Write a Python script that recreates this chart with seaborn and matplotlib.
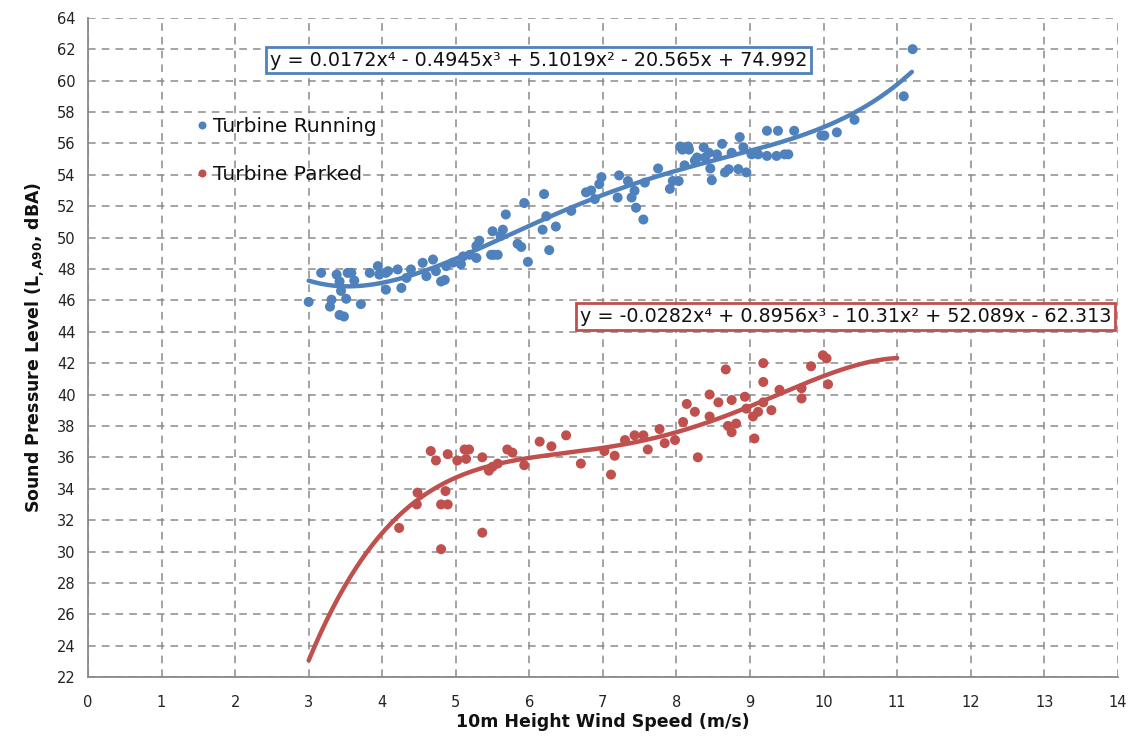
import numpy as np
import pandas as pd
import matplotlib
matplotlib.use("Agg")
import matplotlib.pyplot as plt
import seaborn as sns

# ---------------- data ----------------
run_x = [3.0, 3.17, 3.31, 3.29, 3.38, 3.42, 3.44, 3.42, 3.48, 3.51, 3.53, 3.58, 3.62, 3.71,
         3.83, 3.94, 3.96, 4.05, 4.05, 4.08, 4.21, 4.26, 4.33, 4.39, 4.55, 4.60, 4.69, 4.73,
         4.80, 4.85, 4.87, 4.96, 5.07, 5.10, 5.19, 5.28, 5.28, 5.32, 5.48, 5.50, 5.57, 5.61,
         5.64, 5.68, 5.52, 5.84, 5.89, 5.93, 5.98, 6.20, 6.18, 6.23, 6.27, 6.36, 6.57, 6.77,
         6.84, 6.89, 6.98, 6.95, 7.20, 7.22, 7.34, 7.39, 7.43, 7.45, 7.55, 7.57, 7.75, 7.91,
         7.95, 8.05, 8.16, 8.11, 8.25, 8.39,
         8.08, 8.17, 8.03, 8.28, 8.37, 8.44, 8.46, 8.48, 8.55, 8.62, 8.66, 8.71, 8.75, 8.84,
         8.86, 8.91, 8.95, 9.02, 9.11, 9.23, 9.23, 9.38, 9.36, 9.47, 9.52, 9.60, 9.97, 10.01,
         10.18, 10.42, 11.09, 11.21]
run_y = [45.9, 47.75, 46.04, 45.6, 47.64, 47.2, 46.6, 45.07, 44.97, 46.1, 47.75, 47.75, 47.26, 45.76,
         47.75, 48.18, 47.64, 47.75, 46.68, 47.86, 47.97, 46.79, 47.43, 47.97, 48.39, 47.54, 48.6, 47.86,
         47.2, 47.3, 48.18, 48.4, 48.3, 48.8, 48.9, 48.7, 49.46, 49.8, 48.9, 50.4, 48.9, 50.1,
         50.5, 51.47, 48.9, 49.6, 49.4, 52.2, 48.45, 52.77, 50.5, 51.36, 49.2, 50.7, 51.7, 52.88,
         53.0, 52.45, 53.85, 53.4, 52.55, 53.96, 53.6, 52.55, 52.98, 51.9, 51.15, 53.5, 54.4, 53.1,
         53.6, 55.8, 55.8, 54.6, 54.9, 55.1,
         55.6, 55.6, 53.6, 55.1, 55.75, 55.4, 54.4, 53.65, 55.3, 55.97, 54.15, 54.35, 55.4, 54.36,
         56.4, 55.75, 54.15, 55.3, 55.3, 55.2, 56.8, 56.8, 55.2, 55.3, 55.3, 56.8, 56.5, 56.5,
         56.7, 57.5, 59.0, 62.0]

park_x = [4.23, 4.48, 4.47, 4.66, 4.73, 4.80, 4.80, 4.89, 4.86, 4.89, 5.02, 5.12, 5.18, 5.14,
          5.36, 5.36, 5.45, 5.50, 5.57, 5.70, 5.77, 5.93, 6.14, 6.30, 6.50, 6.70, 7.02, 7.11,
          7.16, 7.30, 7.43, 7.55, 7.61, 7.77, 7.84, 7.98,
          8.09, 8.14, 8.25, 8.29, 8.45, 8.45, 8.57, 8.67, 8.70, 8.75, 8.75, 8.81, 8.93, 8.95,
          9.04, 9.06, 9.11, 9.18, 9.18, 9.18, 9.29, 9.40, 9.70, 9.70, 9.83, 9.99, 10.04, 10.06]
park_y = [31.5, 33.75, 33.0, 36.4, 35.8, 30.15, 33.0, 33.0, 33.85, 36.2, 35.8, 36.5, 36.5, 35.9,
          36.0, 31.2, 35.15, 35.4, 35.6, 36.5, 36.3, 35.5, 37.0, 36.7, 37.4, 35.6, 36.4, 34.9,
          36.1, 37.1, 37.4, 37.4, 36.5, 37.8, 36.9, 37.1,
          38.25, 39.4, 38.9, 36.0, 40.0, 38.6, 39.5, 41.6, 38.0, 39.65, 37.6, 38.15, 39.86, 39.1,
          38.6, 37.2, 38.9, 42.0, 40.8, 39.5, 39.0, 40.3, 40.4, 39.75, 41.8, 42.5, 42.3, 40.65]

# trendline polynomial coefficients (highest power first), as printed on the chart
run_coef = [0.0172, -0.4945, 5.1019, -20.565, 74.992]
park_coef = [-0.0282, 0.8956, -10.31, 52.089, -62.313]
run_range = [3.0, 11.2]
park_range = [3.0, 11.0]

run_label = "Turbine Running"
park_label = "Turbine Parked"
run_eq = "y = 0.0172x\u2074 - 0.4945x\u00b3 + 5.1019x\u00b2 - 20.565x + 74.992"
park_eq = "y = -0.0282x\u2074 + 0.8956x\u00b3 - 10.31x\u00b2 + 52.089x - 62.313"

x_ticks = list(range(0, 15))
y_ticks = list(range(22, 65, 2))

# ---------------- styling ----------------
BLUE = "#4F81BD"
RED = "#C0504D"

sns.set_theme(style="white")
plt.rcParams["font.family"] = ["DejaVu Sans"]

fig = plt.figure(figsize=(11.28, 7.40), dpi=100)
ax = fig.add_axes([0.078, 0.085, 0.913, 0.891])

pts = pd.concat([
    pd.DataFrame({"x": run_x, "y": run_y, "series": run_label}),
    pd.DataFrame({"x": park_x, "y": park_y, "series": park_label}),
], ignore_index=True)

sns.scatterplot(data=pts, x="x", y="y", hue="series",
                palette={run_label: BLUE, park_label: RED},
                s=52, edgecolor="none", linewidth=0, ax=ax, zorder=3)

xr = np.linspace(run_range[0], run_range[1], 300)
xp = np.linspace(park_range[0], park_range[1], 300)
curves = pd.concat([
    pd.DataFrame({"x": xr, "y": np.polyval(run_coef, xr), "series": "run"}),
    pd.DataFrame({"x": xp, "y": np.polyval(park_coef, xp), "series": "park"}),
], ignore_index=True)
sns.lineplot(data=curves, x="x", y="y", hue="series",
             palette={"run": BLUE, "park": RED}, linewidth=3.2,
             legend=False, ax=ax, zorder=4, sort=False, estimator=None)

ax.set_xlim(0, 14)
ax.set_ylim(22, 64)
ax.set_xticks(x_ticks)
ax.set_yticks(y_ticks)
ax.tick_params(axis="both", labelsize=10.5, colors="#222222")
ax.tick_params(axis="x", direction="inout", length=8, width=1, color="#888888", pad=9)
ax.tick_params(axis="y", direction="out", length=5, width=1, color="#888888", pad=4)

ax.grid(True, which="major", color="#8a8a8a", linestyle=(0, (5, 4)), linewidth=1.1)
ax.set_axisbelow(True)
for side in ["top", "right"]:
    ax.spines[side].set_visible(False)
for side in ["left", "bottom"]:
    ax.spines[side].set_color("#888888")
    ax.spines[side].set_linewidth(1.3)

ax.set_xlabel("10m Height Wind Speed (m/s)", fontsize=12.5, fontweight="bold",
              color="#111111", labelpad=2)
ax.set_ylabel(r"Sound Pressure Level (L$_{\mathbf{,A90}}$, dBA)", fontsize=12.5,
              fontweight="bold", color="#111111", labelpad=8)

leg = ax.legend(loc="upper left", bbox_to_anchor=(0.105, 0.85), frameon=False,
                fontsize=14.5, labelspacing=1.45, handletextpad=0.25, handlelength=0.6,
                borderpad=0, borderaxespad=0, markerscale=0.8, title=None)
for t in leg.get_texts():
    t.set_color("#111111")

ax.text(6.13, 61.3, run_eq, fontsize=13.8, ha="center", va="center", color="#111111",
        zorder=6, bbox=dict(boxstyle="square,pad=0.2", facecolor="white",
                            edgecolor=BLUE, linewidth=2))
ax.text(10.3, 44.95, park_eq, fontsize=13.8, ha="center", va="center", color="#111111",
        zorder=6, clip_on=False, bbox=dict(boxstyle="square,pad=0.2", facecolor="white",
                                           edgecolor=RED, linewidth=2))

fig.savefig("out.png", dpi=100, facecolor="white")
